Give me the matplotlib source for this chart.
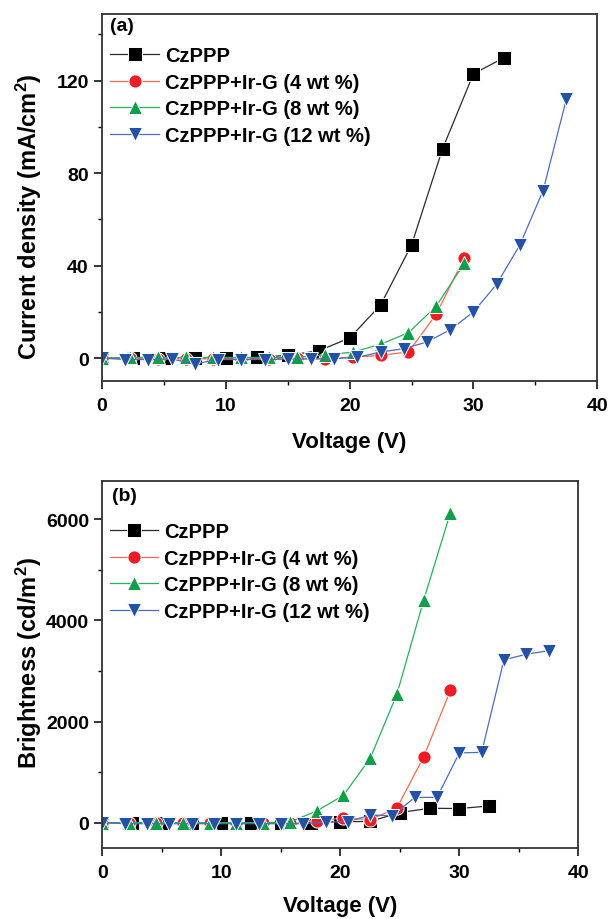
import matplotlib
matplotlib.use("Agg")
import matplotlib.pyplot as plt
from matplotlib.ticker import AutoMinorLocator, MultipleLocator

plt.rcParams['font.family'] = ['Liberation Sans', 'DejaVu Sans']
plt.rcParams['font.weight'] = 'bold'
plt.rcParams['mathtext.fontset'] = 'custom'
plt.rcParams['mathtext.rm'] = 'Liberation Sans:bold'
plt.rcParams['mathtext.bf'] = 'Liberation Sans:bold'
plt.rcParams['mathtext.default'] = 'bf'

# series names
labels = ['CzPPP', 'CzPPP+Ir-G (4 wt %)', 'CzPPP+Ir-G (8 wt %)', 'CzPPP+Ir-G (12 wt %)']

# voltages (V)
v_czppp = [0, 2.5, 5, 7.5, 10, 12.5, 15, 17.5, 20, 22.5, 25, 27.5, 30, 32.5]
v_4wt = [0, 2.25, 4.5, 6.75, 9, 11.25, 13.5, 15.75, 18, 20.25, 22.5, 24.75, 27, 29.25]
v_8wt = [0, 2.25, 4.5, 6.75, 9, 11.25, 13.5, 15.75, 18, 20.25, 22.5, 24.75, 27, 29.25]
v_12wt = [0, 1.875, 3.75, 5.625, 7.5, 9.375, 11.25, 13.125, 15, 16.875, 18.75,
          20.625, 22.5, 24.375, 26.25, 28.125, 30, 31.875, 33.75, 35.625, 37.5]

# current density (mA/cm2)
j_czppp = [0, 0, 0, 0, 0, 0.3, 1.2, 3.2, 8.7, 23, 49, 90.5, 123, 130]
j_4wt = [0, 0, -0.3, -0.3, -0.3, -0.3, -0.3, 0, -0.3, 0.4, 1.2, 2.7, 19, 43.5]
j_8wt = [0, 0.3, 0.3, 0.3, 0.3, 0.3, 0.3, 0.4, 1.4, 2.6, 6, 11, 22.5, 41]
j_12wt = [0, -0.6, -0.6, -0.4, -2.5, -0.6, -0.6, -0.6, -0.4, -0.4, -0.2,
          0.4, 2.6, 4.1, 7, 12.3, 20, 32, 49, 72.5, 112]

# brightness (cd/m2)
b_czppp = [0, 0, 0, 0, 0, 0, 0, 0, 20, 25, 200, 285, 280, 330]
b_4wt = [0, 0, 0, 0, 0, 0, 0, 0, 30, 95, 60, 290, 1300, 2620]
b_8wt = [0, 0, 0, 0, 0, 0, 0, 15, 230, 540, 1270, 2540, 4400, 6130]
b_12wt = [0, -20, -20, -20, -20, -20, -20, -20, -20, -20, 10,
          20, 150, 140, 500, 500, 1380, 1390, 3220, 3330, 3400]

line_colors = ['#2a2a2a', '#f26a4b', '#27b05c', '#4d6cc0']
marker_colors = ['#000000', '#ee1c25', '#0e9f48', '#2351a6']
markers = ['s', 'o', '^', 'v']


def draw(ax, xs, ys):
    for x, y, lab, lc, mc, m in zip(xs, ys, labels, line_colors, marker_colors, markers):
        ax.plot(x, y, color=lc, lw=0.9, marker=m, ms=9.5, mfc=mc, mec='white',
                mew=0.7, label=lab)
    ax.set_xlim(0, 40)
    ax.xaxis.set_major_locator(MultipleLocator(10))
    ax.xaxis.set_minor_locator(AutoMinorLocator(2))
    ax.yaxis.set_minor_locator(AutoMinorLocator(2))
    ax.tick_params(which='major', direction='out', length=5.5, width=1.1,
                   labelsize=14, pad=4)
    ax.tick_params(axis='x', which='major', pad=6)
    ax.tick_params(which='minor', direction='out', length=3, width=1.0)
    for s in ax.spines.values():
        s.set_linewidth(1.3)
        s.set_color('#333333')
    ax.set_xlabel('Voltage (V)', fontsize=16, fontweight='bold')
    ax.legend(frameon=False, fontsize=14.5, handlelength=2.4, handletextpad=0.3,
              labelspacing=0.38, borderpad=0, borderaxespad=0, loc='upper left')


fig = plt.figure(figsize=(6.09, 9.2), dpi=100)
ax1 = fig.add_axes([0.1675, 0.5845, 0.8133, 0.3996])
ax2 = fig.add_axes([0.1683, 0.0772, 0.7813, 0.3986])

draw(ax1, [v_czppp, v_4wt, v_8wt, v_12wt], [j_czppp, j_4wt, j_8wt, j_12wt])
ax1.set_ylim(-10, 149)
ax1.yaxis.set_major_locator(MultipleLocator(40))
ax1.set_ylabel('Current density (mA/cm$^2$)', fontsize=17, fontweight='bold')
ax1.yaxis.set_label_coords(-0.118, 0.45)
ax1.xaxis.set_label_coords(0.5, -0.136)
ax1.legend_.set_bbox_to_anchor((0.017, 0.912), transform=ax1.transAxes)
ax1.text(0.016, 0.99, '(a)', transform=ax1.transAxes, fontsize=14,
         fontweight='bold', va='top', ha='left')

draw(ax2, [v_czppp, v_4wt, v_8wt, v_12wt], [b_czppp, b_4wt, b_8wt, b_12wt])
ax2.set_ylim(-500, 6750)
ax2.yaxis.set_major_locator(MultipleLocator(2000))
ax2.set_ylabel('Brightness (cd/m$^2$)', fontsize=17, fontweight='bold')
ax2.yaxis.set_label_coords(-0.122, 0.507)
ax2.xaxis.set_label_coords(0.5, -0.128)
ax2.legend_.set_bbox_to_anchor((0.016, 0.889), transform=ax2.transAxes)
ax2.text(0.020, 0.985, '(b)', transform=ax2.transAxes, fontsize=14,
         fontweight='bold', va='top', ha='left')

fig.savefig('out.png', dpi=100)
